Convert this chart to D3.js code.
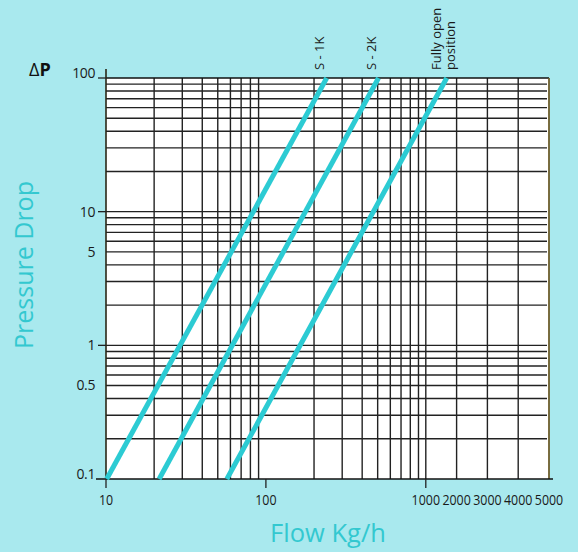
<!DOCTYPE html>
<html><head><meta charset="utf-8">
<script src="https://cdn.jsdelivr.net/npm/d3@7"></script>
<style>
html,body{margin:0;padding:0;background:#a9e9ee;}
svg{display:block;font-family:"Open Sans","Noto Sans",sans-serif;}
</style></head>
<body><svg id="c" width="578" height="552"></svg>
<script>
// ---- data ----
const xLogTicks = [10,100,1000];
const xLinTicks = [2000,3000,4000,5000];
const xTickLabels = ["10","100","1000","2000","3000","4000","5000"];
const xMinorGrid = [20,30,40,50,60,70,80,90,200,300,400,500,600,700,800,900,1000,2000,3000,4000];
const yGrid = [0.2,0.3,0.4,0.5,0.6,0.7,0.8,0.9,1,2,3,4,5,6,7,8,9,10,20,30,40,50,60,70,80,90];
const yTickValues = [100,10,5,1,0.5,0.1];
const yTickLabels = ["100","10","5","1","0.5","0.1"];
const yTickMarks = [100,10,1];
const seriesNames = ["S - 1K","S - 2K","Fully open position"];
const s1K = [[10.1,0.1],[240,100]];
const s2K = [[21.5,0.1],[506,100]];
const fullyOpen = [[57,0.1],[1000,52],[1680,100]];

// ---- scales ----
const L=106, R=549, T=78, B=479;
const xLog = d3.scaleLog().domain([10,1000]).range([L,425.8]);
const xLin = d3.scaleLinear().domain([1000,5000]).range([425.8,R]);
const x = v => v <= 1000 ? xLog(v) : xLin(v);
const y = d3.scaleLog().domain([0.1,100]).range([B,T]);

const svg = d3.select("#c");
const cyan = "#2ccbd3";
const gridCol = "#222";

svg.append("rect").attr("x",L).attr("y",T).attr("width",R-L).attr("height",B-T).attr("fill","#fff");

const line = d3.line().x(d=>x(d[0])).y(d=>y(d[1]));

// grid
svg.append("g").selectAll("line").data(xMinorGrid).join("line")
  .attr("x1",d=>x(d)).attr("x2",d=>x(d)).attr("y1",T).attr("y2",B)
  .attr("stroke",gridCol).attr("stroke-width",1.4);
svg.append("g").selectAll("line").data(yGrid).join("line")
  .attr("x1",L).attr("x2",R-2).attr("y1",d=>y(d)).attr("y2",d=>y(d))
  .attr("stroke",gridCol).attr("stroke-width",1.4);

// borders
svg.append("line").attr("x1",L).attr("x2",R).attr("y1",T).attr("y2",T).attr("stroke","#111").attr("stroke-width",1.5);
svg.append("line").attr("x1",R).attr("x2",R).attr("y1",T).attr("y2",B).attr("stroke","#6e5e2c").attr("stroke-width",1.8);
svg.append("line").attr("x1",L).attr("x2",L).attr("y1",T-9).attr("y2",B).attr("stroke","#2a2616").attr("stroke-width",1.6);
svg.append("line").attr("x1",L-10).attr("x2",R+4).attr("y1",B).attr("y2",B).attr("stroke","#111").attr("stroke-width",1.6);

// series
[s1K,s2K,fullyOpen].forEach(s=>{
  svg.append("path").datum(s).attr("d",line)
    .attr("fill","none").attr("stroke",cyan).attr("stroke-width",5);
});

// y ticks
svg.append("g").selectAll("line").data(yTickMarks).join("line")
  .attr("x1",L-8).attr("x2",L).attr("y1",d=>y(d)).attr("y2",d=>y(d))
  .attr("stroke","#222").attr("stroke-width",1.3);
svg.append("g").selectAll("text").data(yTickValues).join("text")
  .attr("x",95).attr("y",(d)=>y(d)-(d===100||d===0.1?5:0)).attr("dy","0.35em")
  .attr("text-anchor","end").attr("font-size",14).attr("letter-spacing",-0.4).attr("fill","#1a1a1a")
  .text((d,i)=>yTickLabels[i]);

// x ticks
svg.append("g").selectAll("line").data(xLogTicks).join("line")
  .attr("x1",d=>x(d)).attr("x2",d=>x(d)).attr("y1",B).attr("y2",B+9)
  .attr("stroke","#222").attr("stroke-width",1.3);
svg.append("g").selectAll("text").data(xLogTicks.concat(xLinTicks)).join("text")
  .attr("x",d=>x(d)).attr("y",505).attr("text-anchor","middle")
  .attr("font-size",14).attr("fill","#1a1a1a")
  .attr("textLength",(d,i)=>xTickLabels[i].length*7.1)
  .attr("lengthAdjust","spacingAndGlyphs")
  .text((d,i)=>xTickLabels[i]);

// series labels (rotated, at the top end of each line)
const labelX = [s1K[s1K.length-1][0], s2K[s2K.length-1][0], fullyOpen[fullyOpen.length-1][0]];
const lab = svg.append("g").attr("font-size",13).attr("fill","#1a1a1a");
lab.append("text").attr("transform",`translate(${x(labelX[0])-7},70) rotate(-90)`).attr("dy","0.35em").text(seriesNames[0]);
lab.append("text").attr("transform",`translate(${x(labelX[1])-7},70) rotate(-90)`).attr("dy","0.35em").text(seriesNames[1]);
const fo = lab.append("text").attr("transform",`translate(${x(labelX[2])-3},70) rotate(-90)`);
fo.append("tspan").attr("x",0).attr("dy","-0.2em").text("Fully open");
fo.append("tspan").attr("x",0).attr("dy","1.05em").text("position");

// ΔP
const dp = svg.append("text").attr("x",29).attr("y",76).attr("font-size",18).attr("fill","#111");
dp.append("tspan").text("Δ");
dp.append("tspan").attr("font-weight","bold").text("P");

// axis titles
svg.append("text").attr("x",328).attr("y",542).attr("text-anchor","middle")
  .attr("font-size",25.5).attr("fill","#33c8d0").text("Flow Kg/h");
svg.append("text").attr("transform","translate(33,265) rotate(-90)").attr("text-anchor","middle")
  .attr("font-size",25).attr("fill","#33c8d0").text("Pressure Drop");
</script></body></html>
